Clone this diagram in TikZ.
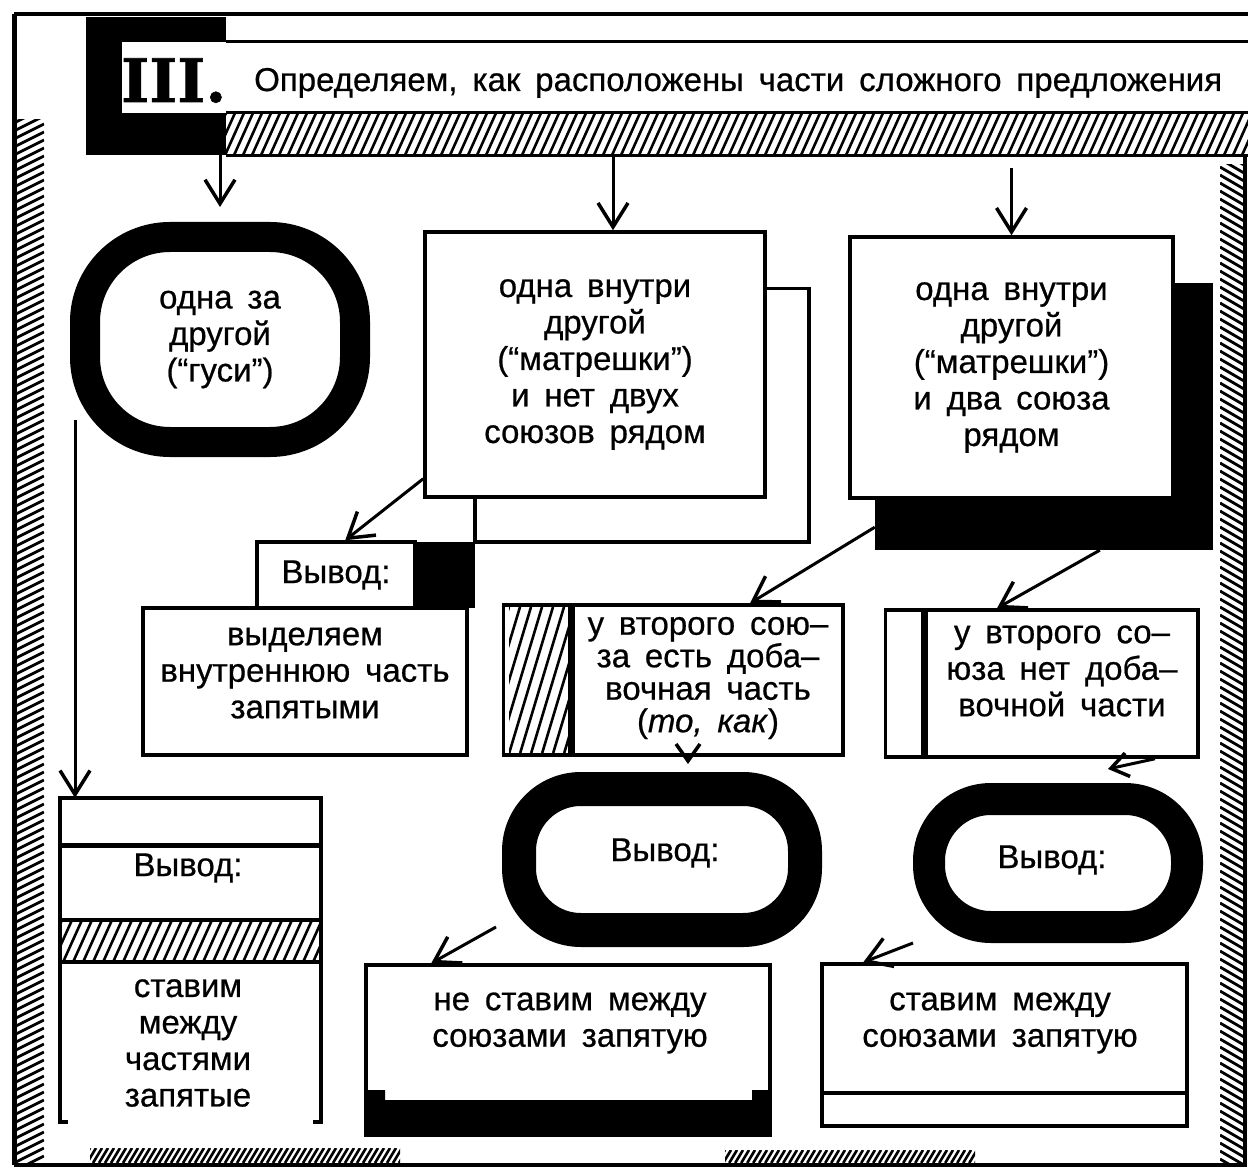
\documentclass[tikz,border=0pt]{standalone}
\usepackage{fontspec}
\setmainfont{Liberation Sans}[FakeBold=0.6]
\newfontfamily\numfont{DejaVu Serif}[FakeBold=1]
\usetikzlibrary{arrows.meta,positioning}

\newcommand\boxfont{\fontsize{33}{36.5}\selectfont\spaceskip=0.45em\relax}
% hatching: left, top, right, bottom, gap, slant
\newcommand\hatchrect[6]{%
  \begin{scope}
    \clip (#1,#2) rectangle (#3,#4);
    \pgfmathtruncatemacro\hn{((#3)-(#1)+((#4)-(#2))*(#6))/(#5)+1}
    \foreach \i in {0,...,\hn}
      \draw[line width=2.6pt] ({#1+#5*\i},#2) -- ++({-(#4-#2)*#6},{#4-#2});
  \end{scope}}
% brush strokes along a side: left, top, right, bottom, gap, rise
\newcommand\brushband[6]{%
  \begin{scope}
    \clip (#1,#2) rectangle (#3,#4);
    \pgfmathtruncatemacro\bn{((#4)-(#2)+2*abs(#6))/(#5)+1}
    \foreach \i in {0,...,\bn}
      \draw[line width=2.8pt] (#1,{#2-abs(#6)+#5*\i}) -- ++({#3-#1},{-(#6)});
  \end{scope}}

\begin{document}
\begin{tikzpicture}[x=1pt,y=-1pt,
  box/.style={draw, line width=3.5pt, fill=white, inner sep=0pt, align=center, font=\boxfont},
  ring/.style={draw, line width=#1, rounded corners=62pt, inner sep=0pt, align=center, font=\boxfont},
  lbl/.style={align=center, font=\boxfont, inner sep=0pt},
  arr/.style={line width=3pt, -{Straight Barb[length=24pt,width=30pt,line width=3.5pt]}},
  shortarr/.style={line width=3pt, -{Straight Barb[length=17pt,width=24pt,line width=3.5pt]}},
  wire/.style={line width=3.5pt}]

\useasboundingbox (0,0) rectangle (1248,1169);

% frame and brush edges
\draw[line width=4pt] (14,14) -- (1248,14);
\draw[line width=5pt] (14,14) -- (14,1165);
\draw[line width=4pt] (14,1165) -- (1245,1165) -- (1245,155);
\brushband{16}{120}{44}{1163}{8}{14}
\brushband{1220}{165}{1244}{1163}{8}{-14}
\hatchrect{90}{1148}{400}{1163}{6}{0.6}
\hatchrect{725}{1150}{975}{1163}{6}{0.6}

% header
\fill (86,17) rectangle (226,155);
\fill[white] (122,42) rectangle (1248,113);
\draw[line width=3pt] (226,42) -- (1248,42);
\node[anchor=base west, inner sep=0pt, font=\numfont\bfseries\fontsize{60}{60}\selectfont] (num) at (121,102) {III.};
\node[anchor=base west, inner sep=0pt, font=\boxfont] (title) at (254,91) {Определяем, как расположены части сложного предложения};
\node[minimum width=1022pt, minimum height=42pt, inner sep=0pt, anchor=north west] (strip) at (226,113) {};
\hatchrect{226}{113}{1248}{155}{9}{0.45}
\draw[line width=3pt] (strip.north west) -- (strip.north east) (strip.south west) -- (strip.south east);

% first row
\node[ring=30pt, rounded corners=85pt, minimum width=270pt, minimum height=205pt] (goose) at (220,339.5) {одна за\\другой\\(“гуси”)};
\node[box, minimum width=340pt, minimum height=265pt] (inside) at (595,364.5) {одна внутри\\другой\\(“матрешки”)\\и нет двух\\союзов рядом};
\node[fill, inner sep=0pt, minimum width=338pt, minimum height=267pt] (shadow) at (1044,416.5) {};
\node[box, minimum width=323pt, minimum height=261pt] (double) at (1011.5,367.5) {одна внутри\\другой\\(“матрешки”)\\и два союза\\рядом};

\coordinate (insidetop) at ([xshift=18pt]inside.north);
\draw[arr] (strip.south -| goose.north) -- ([yshift=15pt]goose.north);
\draw[arr] (strip.south -| insidetop) -- (insidetop);
\draw[arr] ([yshift=67pt]double.north) -- (double.north);

% second row
\node[box, minimum width=158pt, minimum height=66pt] (concl) at (336,575) {Вывод:};
\node[fill, inner sep=0pt, minimum width=58pt, minimum height=66pt, right=0pt of concl] (concltag) {};
\node[box, minimum width=324pt, minimum height=147pt] (mark) at (305,681.5) {};
\node[lbl] (marktxt) at (305,673) {выделяем\\внутреннюю часть\\запятыми};

\node[box, minimum width=270pt, minimum height=150pt] (extra) at (708,680) {};
\node[lbl, font=\boxfont\fontsize{33}{32.5}\selectfont] (extratxt) at (708,678) {у второго сою–\\за есть доба–\\вочная часть\\(\textit{то, как})};
\node[box, minimum width=66pt, minimum height=150pt, left=0pt of extra] (extrastrip) {};
\hatchrect{509}{607}{571}{753}{11}{0.3}

\node[box, minimum width=272pt, minimum height=147pt] (noextra) at (1062,683.5) {};
\node[lbl] (noextratxt) at (1062,671) {у второго со–\\юза нет доба–\\вочной части};
\node[box, minimum width=37pt, minimum height=147pt, left=0pt of noextra] (noextrastrip) {};

\draw[arr] ([yshift=20pt]inside.south west) -- ([xshift=90pt]concl.north west);
\draw[wire] (concltag.north east |- inside.south) -- (concltag.north east);
\draw[wire] ([yshift=-58pt]inside.north east) -- ++(42,0) |- (concltag.north east);
\draw[arr] ([yshift=23pt]shadow.south west) -- ([xshift=42pt]extra.north);
\draw[arr] ([xshift=225pt]shadow.south west) -- ([xshift=-65pt]noextra.north);

% third row
\node[ring=34pt, minimum width=286pt, minimum height=141pt] (noconcl) at (662,859.5) {};
\node[lbl] (noconcltxt) at (665,853) {Вывод:};
\node[ring=32pt, minimum width=258pt, minimum height=128pt] (yesconcl) at (1058,863) {};
\node[lbl] (yesconcltxt) at (1052,860) {Вывод:};
\draw[shortarr] ([xshift=-20pt]extra.south) -- ([xshift=26pt,yshift=8pt]noconcl.north);
\draw[shortarr] ([xshift=93pt]noextra.south) -- ([xshift=50pt,yshift=14pt]yesconcl.north);

% bottom row
\node[inner sep=0pt, minimum width=261pt, minimum height=324pt] (commas) at (190.5,960) {};
\draw[wire] ([xshift=8pt]commas.south west) -- (commas.south west) -- (commas.north west)
  -- (commas.north east) -- (commas.south east) -- ([xshift=-8pt]commas.south east);
\draw[line width=5pt] (60,845) -- (321,845);
\hatchrect{62}{920}{319}{962}{10}{0.45}
\draw[wire] (60,920) -- (321,920) (60,962) -- (321,962);
\node[lbl] (commasconcl) at (188,868) {Вывод:};
\node[lbl] (commastxt) at (188,1043) {ставим\\между\\частями\\запятые};
\coordinate (gooseout) at ([xshift=5pt,yshift=-80pt]goose.west);
\draw[arr] (gooseout) -- (gooseout |- commas.north);

\node[box, minimum width=404pt, minimum height=170pt] (nocomma) at (568,1050) {};
\fill (366,1100) rectangle (770,1135);
\fill (366,1090) rectangle (385,1100) (752,1090) rectangle (770,1100);
\node[lbl] (nocommatxt) at (570,1023) {не ставим между\\союзами запятую};

\node[box, minimum width=365pt, minimum height=162pt] (comma) at (1004.5,1045) {};
\draw[wire] (822,1093) -- (1187,1093);
\node[lbl] (commatxt) at (1000,1023) {ставим между\\союзами запятую};

\draw[arr] ([xshift=-6pt,yshift=20pt]noconcl.south west) -- ([xshift=67pt]nocomma.north west);
\draw[arr] (yesconcl.south west) -- ([xshift=43pt]comma.north west);
\end{tikzpicture}
\end{document}
